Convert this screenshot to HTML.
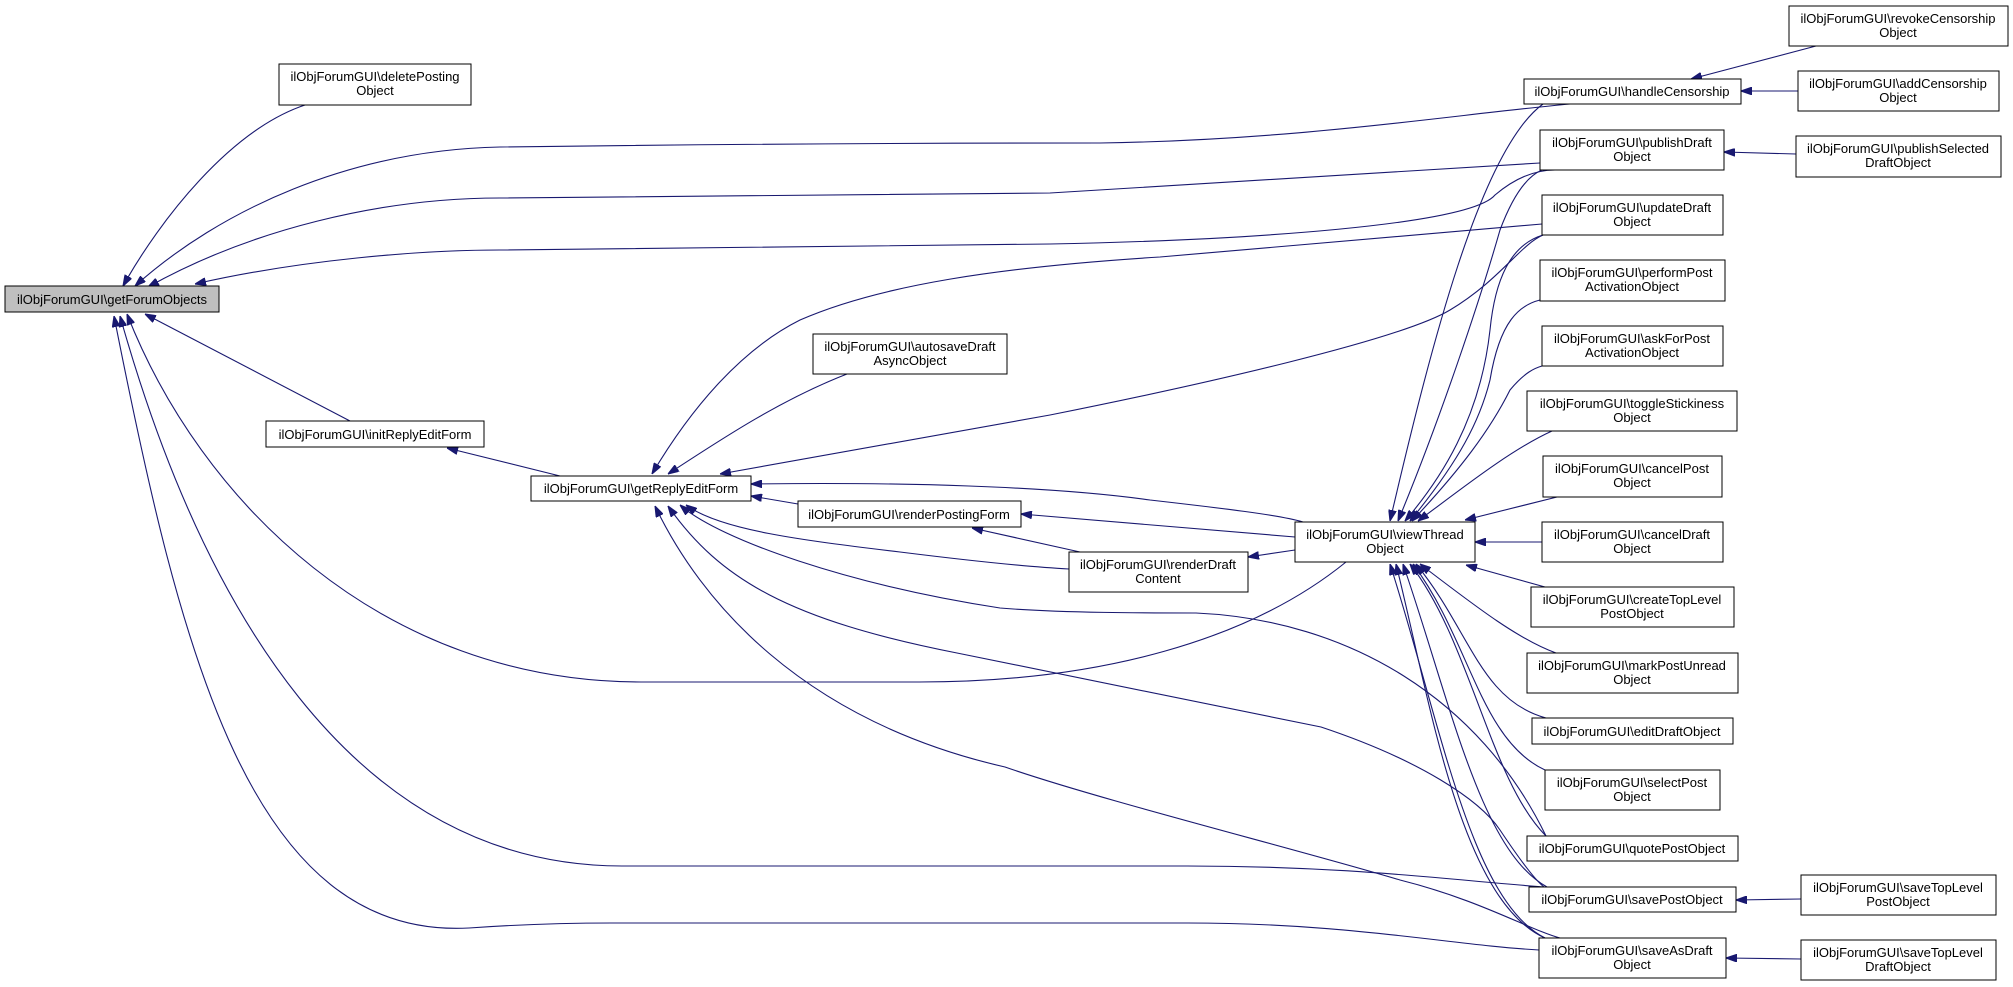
<!DOCTYPE html>
<html><head><meta charset="utf-8"><style>
html,body{margin:0;padding:0;background:#fff;}
svg{display:block;}
text{font-family:"Liberation Sans",Arial,sans-serif;font-size:13px;fill:#000;}
.b{fill:#fff;stroke:#000;stroke-width:1;}
.e{fill:none;stroke:#191970;stroke-width:1.1;marker-start:url(#a);}
</style></head><body>
<svg width="2013" height="987" viewBox="0 0 2013 987" xmlns="http://www.w3.org/2000/svg">
<defs>
<marker id="a" viewBox="0 0 10 7" refX="10" refY="3.5" markerWidth="11" markerHeight="8" markerUnits="userSpaceOnUse" orient="auto-start-reverse">
<path d="M0,0 L10,3.5 L0,7 z" fill="#191970" stroke="#191970"/>
</marker>
</defs>

<!-- edges -->
<path class="e" d="M123,286 C160,220 230,130 305,105"/>
<path class="e" d="M135,286 C220,210 350,150 500,147 C800,143 1000,143 1100,143 C1300,140 1450,115 1570,104"/>
<path class="e" d="M148,287 C250,230 380,198 500,198 L1050,193 L1540,163"/>
<path class="e" d="M195,284 C300,260 420,250 500,250 L1050,244 C1250,240 1470,225 1495,195 C1515,178 1535,170 1555,170"/>
<path class="e" d="M652,474 C690,410 740,350 800,320 C880,285 1000,267 1160,257 L1542,224"/>
<path class="e" d="M720,474 L1050,415 C1200,385 1400,340 1450,310 C1500,280 1520,245 1543,235"/>
<path class="e" d="M668,474 C720,440 780,400 847,374"/>
<path class="e" d="M447,448 L560,476"/>
<path class="e" d="M145,314 L350,421"/>
<path class="e" d="M127,314 C200,500 380,682 641,682 L919,682 C1100,682 1250,640 1346,562"/>
<path class="e" d="M120,316 C200,600 350,866 622,866 L1187,866 C1350,866 1450,880 1544,887"/>
<path class="e" d="M114,316 C180,650 250,940 469,928 C540,923 600,923 612,923 L1187,923 C1350,923 1450,945 1539,950"/>
<path class="e" d="M751,484 C900,482 1050,486 1150,500 C1220,508 1280,515 1303,522"/>
<path class="e" d="M751,496 L798,504"/>
<path class="e" d="M686,505 C720,530 800,540 900,552 C980,562 1030,567 1069,569"/>
<path class="e" d="M680,505 C720,540 850,585 1000,608 C1060,613 1150,613 1196,613 C1350,620 1480,700 1546,836"/>
<path class="e" d="M668,506 C720,580 790,620 957,653 L1321,727 C1420,760 1480,800 1500,830 C1520,860 1535,880 1544,887"/>
<path class="e" d="M655,506 C700,600 800,720 1005,767 C1100,800 1300,850 1400,880 C1480,900 1530,930 1560,938"/>
<path class="e" d="M972,528 L1080,552"/>
<path class="e" d="M1021,514 L1295,537"/>
<path class="e" d="M1248,557 L1295,550"/>
<path class="e" d="M1691,79 L1816,46"/>
<path class="e" d="M1741,91 L1798,91"/>
<path class="e" d="M1724,152 L1796,154"/>
<path class="e" d="M1736,900 L1801,899"/>
<path class="e" d="M1726,958 L1801,959"/>
<path class="e" d="M1390,521 C1430,350 1480,150 1543,104"/>
<path class="e" d="M1398,521 C1440,420 1480,300 1500,230 C1515,190 1530,175 1542,170"/>
<path class="e" d="M1405,521 C1440,480 1480,420 1490,330 C1495,280 1510,245 1543,235"/>
<path class="e" d="M1410,521 C1460,460 1480,420 1490,380 C1500,320 1520,305 1540,300"/>
<path class="e" d="M1412,521 C1460,470 1490,430 1510,390 C1525,372 1535,368 1542,366"/>
<path class="e" d="M1418,521 C1460,490 1510,450 1552,431"/>
<path class="e" d="M1465,520 L1557,497"/>
<path class="e" d="M1475,542 L1542,542"/>
<path class="e" d="M1466,565 L1545,587"/>
<path class="e" d="M1420,564 C1480,610 1520,640 1556,653"/>
<path class="e" d="M1416,564 C1470,630 1480,700 1546,718"/>
<path class="e" d="M1413,564 C1470,640 1480,740 1545,770"/>
<path class="e" d="M1410,564 C1470,640 1490,780 1546,836"/>
<path class="e" d="M1403,564 C1450,700 1480,850 1547,887"/>
<path class="e" d="M1396,564 C1430,700 1460,900 1545,938"/>
<path class="e" d="M1390,564 C1440,720 1470,900 1545,938"/>

<!-- nodes -->
<rect class="b" x="5" y="286" width="214" height="26" style="fill:#bfbfbf"/>
<text x="112" y="304" text-anchor="middle">ilObjForumGUI\getForumObjects</text>

<rect class="b" x="279" y="64" width="192" height="41"/>
<text x="375" y="81" text-anchor="middle">ilObjForumGUI\deletePosting</text><text x="375" y="95" text-anchor="middle">Object</text>

<rect class="b" x="266" y="421" width="218" height="26"/>
<text x="375" y="439" text-anchor="middle">ilObjForumGUI\initReplyEditForm</text>

<rect class="b" x="531" y="476" width="220" height="25"/>
<text x="641" y="493" text-anchor="middle">ilObjForumGUI\getReplyEditForm</text>

<rect class="b" x="813" y="334" width="194" height="40"/>
<text x="910" y="351" text-anchor="middle">ilObjForumGUI\autosaveDraft</text><text x="910" y="365" text-anchor="middle">AsyncObject</text>

<rect class="b" x="798" y="501" width="223" height="26"/>
<text x="909" y="519" text-anchor="middle">ilObjForumGUI\renderPostingForm</text>

<rect class="b" x="1069" y="552" width="179" height="40"/>
<text x="1158" y="569" text-anchor="middle">ilObjForumGUI\renderDraft</text><text x="1158" y="583" text-anchor="middle">Content</text>

<rect class="b" x="1295" y="522" width="180" height="40"/>
<text x="1385" y="539" text-anchor="middle">ilObjForumGUI\viewThread</text><text x="1385" y="553" text-anchor="middle">Object</text>

<rect class="b" x="1524" y="79" width="217" height="25"/>
<text x="1632" y="96" text-anchor="middle">ilObjForumGUI\handleCensorship</text>

<rect class="b" x="1540" y="130" width="184" height="40"/>
<text x="1632" y="147" text-anchor="middle">ilObjForumGUI\publishDraft</text><text x="1632" y="161" text-anchor="middle">Object</text>

<rect class="b" x="1542" y="195" width="181" height="40"/>
<text x="1632" y="212" text-anchor="middle">ilObjForumGUI\updateDraft</text><text x="1632" y="226" text-anchor="middle">Object</text>

<rect class="b" x="1540" y="260" width="185" height="41"/>
<text x="1632" y="277" text-anchor="middle">ilObjForumGUI\performPost</text><text x="1632" y="291" text-anchor="middle">ActivationObject</text>

<rect class="b" x="1542" y="326" width="181" height="40"/>
<text x="1632" y="343" text-anchor="middle">ilObjForumGUI\askForPost</text><text x="1632" y="357" text-anchor="middle">ActivationObject</text>

<rect class="b" x="1527" y="391" width="210" height="40"/>
<text x="1632" y="408" text-anchor="middle">ilObjForumGUI\toggleStickiness</text><text x="1632" y="422" text-anchor="middle">Object</text>

<rect class="b" x="1543" y="456" width="179" height="41"/>
<text x="1632" y="473" text-anchor="middle">ilObjForumGUI\cancelPost</text><text x="1632" y="487" text-anchor="middle">Object</text>

<rect class="b" x="1542" y="522" width="181" height="40"/>
<text x="1632" y="539" text-anchor="middle">ilObjForumGUI\cancelDraft</text><text x="1632" y="553" text-anchor="middle">Object</text>

<rect class="b" x="1531" y="587" width="203" height="40"/>
<text x="1632" y="604" text-anchor="middle">ilObjForumGUI\createTopLevel</text><text x="1632" y="618" text-anchor="middle">PostObject</text>

<rect class="b" x="1527" y="653" width="211" height="40"/>
<text x="1632" y="670" text-anchor="middle">ilObjForumGUI\markPostUnread</text><text x="1632" y="684" text-anchor="middle">Object</text>

<rect class="b" x="1532" y="718" width="201" height="26"/>
<text x="1632" y="736" text-anchor="middle">ilObjForumGUI\editDraftObject</text>

<rect class="b" x="1545" y="770" width="175" height="40"/>
<text x="1632" y="787" text-anchor="middle">ilObjForumGUI\selectPost</text><text x="1632" y="801" text-anchor="middle">Object</text>

<rect class="b" x="1527" y="836" width="211" height="25"/>
<text x="1632" y="853" text-anchor="middle">ilObjForumGUI\quotePostObject</text>

<rect class="b" x="1529" y="887" width="207" height="25"/>
<text x="1632" y="904" text-anchor="middle">ilObjForumGUI\savePostObject</text>

<rect class="b" x="1539" y="938" width="187" height="40"/>
<text x="1632" y="955" text-anchor="middle">ilObjForumGUI\saveAsDraft</text><text x="1632" y="969" text-anchor="middle">Object</text>

<rect class="b" x="1789" y="6" width="219" height="40"/>
<text x="1898" y="23" text-anchor="middle">ilObjForumGUI\revokeCensorship</text><text x="1898" y="37" text-anchor="middle">Object</text>

<rect class="b" x="1798" y="71" width="201" height="40"/>
<text x="1898" y="88" text-anchor="middle">ilObjForumGUI\addCensorship</text><text x="1898" y="102" text-anchor="middle">Object</text>

<rect class="b" x="1796" y="136" width="205" height="41"/>
<text x="1898" y="153" text-anchor="middle">ilObjForumGUI\publishSelected</text><text x="1898" y="167" text-anchor="middle">DraftObject</text>

<rect class="b" x="1801" y="875" width="195" height="40"/>
<text x="1898" y="892" text-anchor="middle">ilObjForumGUI\saveTopLevel</text><text x="1898" y="906" text-anchor="middle">PostObject</text>

<rect class="b" x="1801" y="940" width="195" height="40"/>
<text x="1898" y="957" text-anchor="middle">ilObjForumGUI\saveTopLevel</text><text x="1898" y="971" text-anchor="middle">DraftObject</text>
</svg>
</body></html>
